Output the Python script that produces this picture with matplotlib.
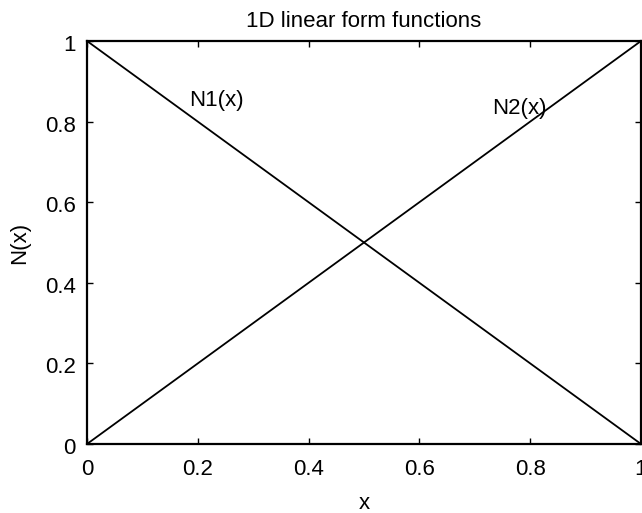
import matplotlib
matplotlib.use("Agg")
import matplotlib.pyplot as plt
import matplotlib.transforms as mtransforms
import numpy as np

x = [0.0, 1.0]
N1 = [1.0, 0.0]
N2 = [0.0, 1.0]
labels = ["N1(x)", "N2(x)"]
label_pos = [(0.184, 0.852), (0.731, 0.832)]
xticks = [0, 0.2, 0.4, 0.6, 0.8, 1]
yticks = [0, 0.2, 0.4, 0.6, 0.8, 1]
xticklabels = ["0", "0.2", "0.4", "0.6", "0.8", "1"]
yticklabels = ["0", "0.2", "0.4", "0.6", "0.8", "1"]

FS = 16
plt.rcParams['font.family'] = ['Liberation Sans', 'DejaVu Sans']
fig = plt.figure(figsize=(6.42, 5.13), dpi=100)
ax = fig.add_axes([87/642, 1-444/513, (641-87)/642, (444-41)/513])
ax.plot(x, N1, color='black', lw=1.3)
ax.plot(x, N2, color='black', lw=1.3)
for t, (px, py) in zip(labels, label_pos):
    ax.text(px, py, t, fontsize=FS, ha='left', va='center')
ax.set_xlim(0, 1)
ax.set_ylim(0, 1)
ax.set_xticks(xticks)
ax.set_xticklabels(xticklabels)
ax.set_yticks(yticks)
ax.set_yticklabels(yticklabels)
ax.tick_params(direction='in', length=4, width=1, top=True, right=True, labelsize=FS)
ax.tick_params(axis='x', pad=11)
ax.tick_params(axis='y', pad=8)
offset = mtransforms.ScaledTranslation(0, -2/100, fig.dpi_scale_trans)
for lab in ax.get_yticklabels():
    lab.set_transform(lab.get_transform() + offset)
for s in ax.spines.values():
    s.set_linewidth(1.6)
ax.set_title("1D linear form functions", fontsize=FS, pad=10)
ax.set_xlabel("x", fontsize=FS, labelpad=9)
ax.set_ylabel("N(x)", fontsize=FS, labelpad=10.5)
fig.savefig("out.png", dpi=100)
